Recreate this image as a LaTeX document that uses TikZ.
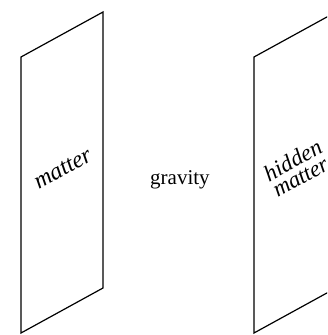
\documentclass[tikz,border=0pt]{standalone}
\usepackage{fontspec}
\setmainfont{Liberation Serif}
\begin{document}
\begin{tikzpicture}[x=1pt,y=1pt,
  plane/.style={draw=black,line width=1.2pt,line join=miter},
  lbl/.style={font=\fontsize{24}{24}\selectfont\itshape,inner sep=0pt,rotate=29},
  txt/.style={font=\fontsize{21}{22}\selectfont,inner sep=0pt}]
\useasboundingbox (0,0) rectangle (327,335);
\clip (0,0) rectangle (327,335);
% left plane
\coordinate (la) at (21,278);
\coordinate (lb) at (103,323);
\coordinate (lc) at (103,47);
\coordinate (ld) at (21,2);
\draw[plane] (la) -- (lb) -- (lc) -- (ld) -- cycle;
% right plane
\coordinate (ra) at (254,278);
\coordinate (rb) at (336,323);
\coordinate (rc) at (336,47);
\coordinate (rd) at (254,2);
\draw[plane] (ra) -- (rb) -- (rc) -- (rd) -- cycle;
\node[lbl] (m) at (63,166) {matter};
\node[lbl,align=left,font=\fontsize{23}{18}\selectfont\itshape] (hm) at (297,167) {hidden\\matter};
\node[txt,anchor=base west] (g) at (150,150) {gravity};
\end{tikzpicture}
\end{document}
